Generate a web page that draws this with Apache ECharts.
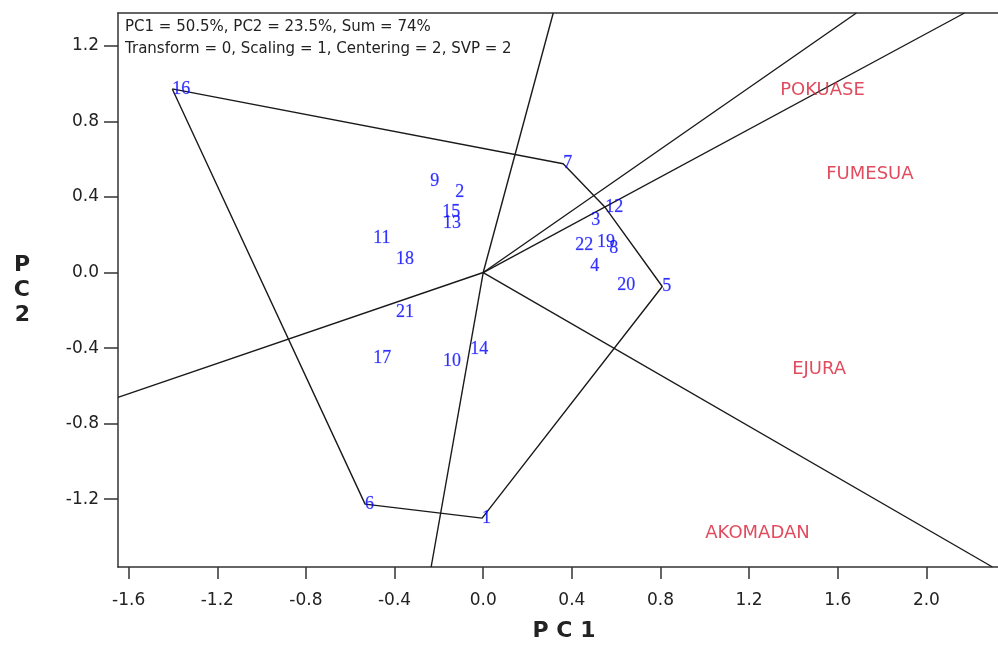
<!DOCTYPE html>
<html>
<head>
<meta charset="utf-8">
<script src="https://cdn.jsdelivr.net/npm/echarts@6/dist/echarts.min.js"></script>
<style>
  html, body { margin: 0; padding: 0; background: #fff; }
  #chart { width: 998px; height: 647px; }
</style>
</head>
<body>
<div id="chart"></div>
<script>
// genotype scores (PC1, PC2)
var genoNames = ['16', '7', '12', '5', '1', '6', '9', '2', '15', '13', '11', '18', '3', '22', '19', '8', '4', '20', '21', '17', '10', '14'];
var genoPC1 = [-1.403, 0.361, 0.551, 0.808, -0.005, -0.533, -0.239, -0.126, -0.185, -0.181, -0.496, -0.393, 0.487, 0.415, 0.514, 0.569, 0.483, 0.605, -0.393, -0.496, -0.181, -0.059];
var genoPC2 = [0.972, 0.576, 0.344, -0.074, -1.300, -1.226, 0.481, 0.425, 0.320, 0.262, 0.182, 0.069, 0.277, 0.145, 0.161, 0.129, 0.034, -0.069, -0.211, -0.455, -0.470, -0.407];

// environments
var envNames = ['POKUASE', 'FUMESUA', 'EJURA', 'AKOMADAN'];
var envPC1 = [1.340, 1.548, 1.394, 1.002];
var envPC2 = [0.967, 0.518, -0.512, -1.380];

// polygon of outer genotypes (closed)
var hull = ['16', '7', '12', '5', '1', '6', '16'];

// rays from the origin, ending where they leave the plot
var rayEndPC1 = [0.316, 1.684, 2.172, 2.298, -0.235, -1.648];
var rayEndPC2 = [1.374, 1.374, 1.374, -1.559, -1.559, -0.661];

var xTicks = [-1.6, -1.2, -0.8, -0.4, 0.0, 0.4, 0.8, 1.2, 1.6, 2.0];
var yTicks = [-1.2, -0.8, -0.4, 0.0, 0.4, 0.8, 1.2];

var chart = echarts.init(document.getElementById('chart'));

var hullData = hull.map(function (n) {
    var i = genoNames.indexOf(n);
    return [genoPC1[i], genoPC2[i]];
});

var raySeries = rayEndPC1.map(function (x, i) {
    return {
        type: 'line',
        data: [[0, 0], [x, rayEndPC2[i]]],
        symbol: 'none',
        silent: true,
        lineStyle: { color: '#1a1a1a', width: 1.4 },
        z: 2
    };
});

var axisFont = { fontFamily: 'DejaVu Sans', fontSize: 17, color: '#222' };

var option = {
    backgroundColor: '#fff',
    animation: false,
    title: {
        text: 'PC1 = 50.5%, PC2 = 23.5%, Sum = 74%\nTransform = 0, Scaling = 1, Centering = 2, SVP = 2',
        left: 120,
        top: 11,
        textStyle: { fontFamily: 'DejaVu Sans', fontSize: 15, fontWeight: 'normal', color: '#222', lineHeight: 22 }
    },
    grid: { left: 118, top: 13, right: 0, bottom: 79 },
    xAxis: [{
        type: 'value',
        min: -1.648,
        max: 2.323,
        name: 'P C 1',
        nameLocation: 'middle',
        nameGap: 53,
        nameTextStyle: { fontFamily: 'DejaVu Sans', fontSize: 22, fontWeight: 'bold', color: '#222', padding: [0, 0, 0, 12] },
        axisLine: { show: true, onZero: false, lineStyle: { color: '#333', width: 1.5 } },
        axisTick: { show: true, length: 12, customValues: xTicks, lineStyle: { color: '#333', width: 1.5 } },
        axisLabel: Object.assign({ customValues: xTicks, margin: 25, formatter: function (v) { return v.toFixed(1); } }, axisFont),
        splitLine: { show: false }
    }, {
        type: 'value',
        position: 'top',
        min: -1.648,
        max: 2.323,
        axisLine: { show: true, onZero: false, lineStyle: { color: '#333', width: 1.5 } },
        axisTick: { show: false },
        axisLabel: { show: false },
        splitLine: { show: false }
    }],
    yAxis: {
        type: 'value',
        min: -1.559,
        max: 1.374,
        name: 'P\nC\n2',
        nameLocation: 'middle',
        nameRotate: 0,
        nameGap: 88,
        nameTextStyle: { fontFamily: 'DejaVu Sans', fontSize: 22, fontWeight: 'bold', color: '#222', lineHeight: 25, padding: [0, 0, 12, 0] },
        axisLine: { show: true, onZero: false, lineStyle: { color: '#333', width: 1.5 } },
        axisTick: { show: true, length: 14, customValues: yTicks, lineStyle: { color: '#333', width: 1.5 } },
        axisLabel: Object.assign({ customValues: yTicks, margin: 19, formatter: function (v) { return v.toFixed(1); } }, axisFont),
        splitLine: { show: false }
    },
    series: raySeries.concat([{
        type: 'line',
        data: hullData,
        symbol: 'none',
        silent: true,
        lineStyle: { color: '#1a1a1a', width: 1.4 },
        z: 2
    }, {
        type: 'scatter',
        data: genoPC1.map(function (x, i) { return [x, genoPC2[i], genoNames[i]]; }),
        symbolSize: 0,
        label: {
            show: true,
            position: 'right',
            distance: 0,
            formatter: function (p) { return p.data[2]; },
            fontFamily: 'Liberation Serif',
            fontSize: 18,
            color: '#0000ff',
            textBorderColor: 'rgba(0,0,255,0.35)',
            textBorderWidth: 0.6
        },
        z: 5
    }, {
        type: 'scatter',
        data: envPC1.map(function (x, i) { return [x, envPC2[i], envNames[i]]; }),
        symbolSize: 0,
        label: {
            show: true,
            position: 'right',
            distance: 0,
            formatter: function (p) { return p.data[2]; },
            fontFamily: 'DejaVu Sans',
            fontSize: 18,
            color: '#d81e34'
        },
        z: 5
    }])
};

chart.setOption(option);
</script>
</body>
</html>
